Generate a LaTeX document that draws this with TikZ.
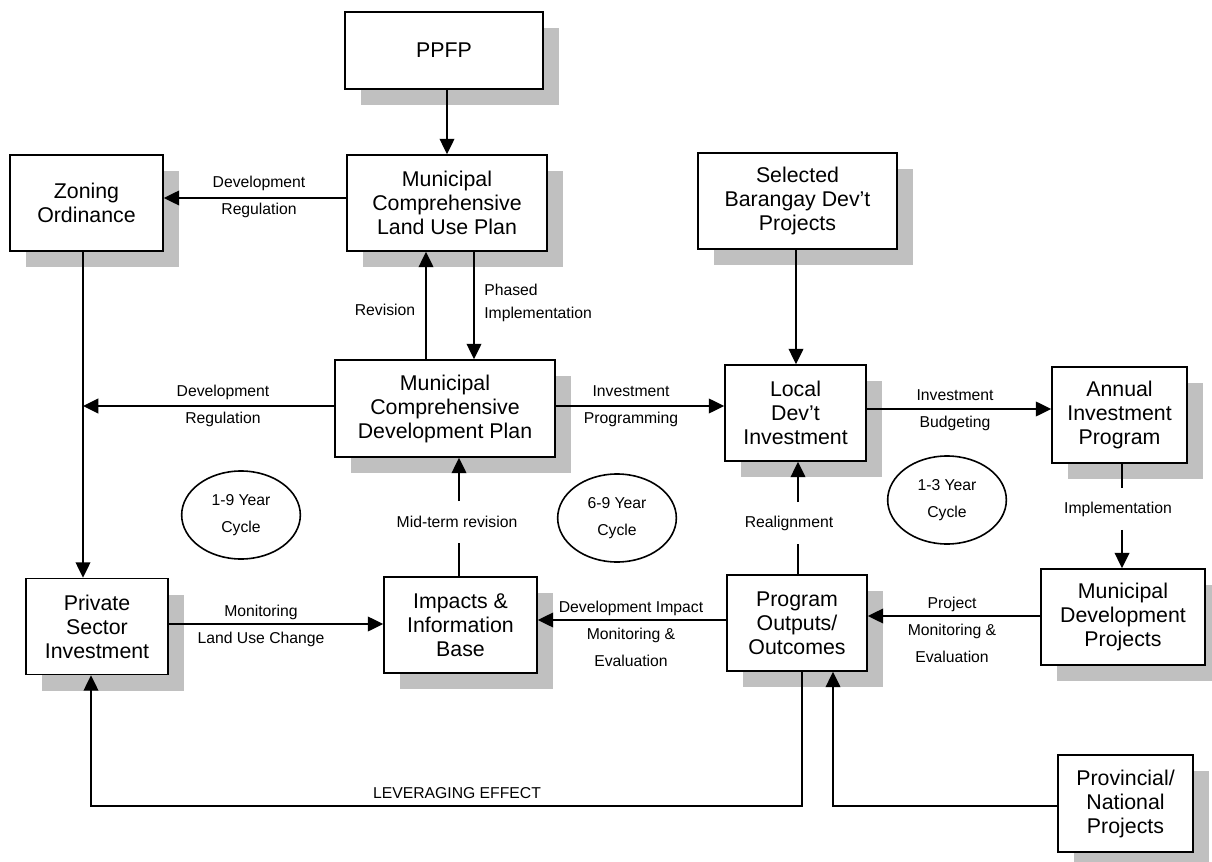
\documentclass[tikz,border=0pt]{standalone}
\usepackage{fontspec}
\setmainfont{Liberation Sans}
\usetikzlibrary{arrows.meta, shapes.geometric, shadows, positioning}
\definecolor{shadowgray}{RGB}{192,192,192}
\newcommand{\boxfont}{\fontsize{16}{18}\selectfont}
\newcommand{\lblfont}{\fontsize{11.8}{20.5}\selectfont}

\begin{document}
\begin{tikzpicture}[line cap=butt,line join=miter,>={Triangle[length=11.5pt,width=11pt]},x=0.75pt,y=-0.75pt]
  \tikzset{
  % boxes with a flat grey shadow
  blk/.style={draw, fill=white, line width=1.2pt, align=center, font=\boxfont, inner sep=2pt,
    drop shadow={shadow xshift=12pt, shadow yshift=-12pt, fill=shadowgray, opacity=1}},
  % labels along the connectors
  lbl/.style={font=\lblfont, align=center, inner sep=0pt},
  gaplbl/.style={lbl, minimum height=31pt},
  cyc/.style={draw, ellipse, line width=1.2pt, font=\lblfont, align=center, inner sep=0pt,
    minimum width=89pt, minimum height=66pt},
  arr/.style={->, line width=1.2pt},
}
\useasboundingbox (0,0) rectangle (1212,862);

\node[blk, minimum width=148.5pt, minimum height=57.75pt] (ppfp) at (444,50.5) {PPFP};
\node[blk, minimum width=150pt, minimum height=72pt] (mclup) at (447,203) {Municipal\\Comprehensive\\Land Use Plan};
\node[blk, minimum width=114.75pt, minimum height=72pt] (zoning) at (86.5,203) {Zoning\\Ordinance};
\node[blk, minimum width=149.25pt, minimum height=72pt] (selected) at (797.5,201) {Selected\\Barangay Dev’t\\Projects};
\node[blk, minimum width=165pt, minimum height=72.75pt] (mcdp) at (445,408.5) {Municipal\\Comprehensive\\Development Plan};
\node[blk, minimum width=105.75pt, minimum height=72pt] (local) at (795.5,413) {Local\\Dev’t\\Investment};
\node[blk, minimum width=101.25pt, minimum height=72pt] (annual) at (1119.5,415) {Annual\\Investment\\Program};
\node[blk, minimum width=106.5pt, minimum height=72pt] (private) at (97,626.5) {Private\\Sector\\Investment};
\node[blk, minimum width=114.75pt, minimum height=72pt] (impacts) at (460.5,625) {Impacts \&\\Information\\Base};
\node[blk, minimum width=105pt, minimum height=72pt] (program) at (797,623) {Program\\Outputs/\\Outcomes};
\node[blk, minimum width=123pt, minimum height=72pt] (mdp) at (1123,617) {Municipal\\Development\\Projects};
\node[blk, minimum width=101.25pt, minimum height=72.75pt] (prov) at (1125.5,803.5) {Provincial/\\National\\Projects};

% cycle ellipses
\node[cyc] (cyc19) at (241,515) {1-9 Year\\Cycle};
\node[cyc] (cyc69) at (617,518) {6-9 Year\\Cycle};
\node[cyc] (cyc13) at (947,500) {1-3 Year\\Cycle};

% labels
\node[lbl] (devreg1) at (259,197) {Development\\Regulation};
\node[lbl] (devreg2) at (223,406) {Development\\Regulation};
\node[lbl] (invprog) at (631,406) {Investment\\Programming};
\node[lbl] (invbud) at (955,410) {Investment\\Budgeting};
\node[lbl] (revis) at (385,310) {Revision};
\node[lbl, align=left, anchor=west, font=\fontsize{11.8}{17.5}\selectfont] (phased) at (484,303) {Phased\\Implementation};
\node[lbl] (projme) at (952,630) {Project\\Monitoring \&\\Evaluation};
\node[lbl] (devimp) at (631,634) {Development Impact\\Monitoring \&\\Evaluation};
\node[lbl] (monit) at (261,626) {Monitoring\\Land Use Change};
\node[lbl] (lev) at (457,793) {LEVERAGING EFFECT};
\node[gaplbl] (impl) at (1118,509) {Implementation};
\node[gaplbl] (realign) at (789,523) {Realignment};
\node[gaplbl] (midterm) at (457,522) {Mid-term revision};

\coordinate (zl) at (83,406);
\coordinate (levr) at (802,806);
\coordinate (levl) at (91,806);
\coordinate (provc) at (833,806);

\draw[arr] (ppfp.south -| mclup.north) -- (mclup.north);
\draw[arr] (mclup.west |- 0,198) -- (zoning.east |- 0,198);
\draw[arr] (zoning.south -| zl) -- (private.north -| zl);
\draw[arr] (mcdp.north -| 426,0) -- (mclup.south -| 426,0);
\draw[arr] (mclup.south -| 474,0) -- (mcdp.north -| 474,0);
\draw[arr] (mcdp.west |- zl) -- (zl);
\draw[arr] (mcdp.east |- zl) -- (local.west |- zl);
\draw[arr] (selected.south -| 796,0) -- (local.north -| 796,0);
\draw[arr] (local.east |- 0,409) -- (annual.west |- 0,409);
\draw[line width=1.2pt] (annual.south -| 1122,0) -- (impl.north -| 1122,0);
\draw[arr] (impl.south -| 1122,0) -- (mdp.north -| 1122,0);
\draw[arr] (mdp.west |- 0,616) -- (program.east |- 0,616);
\draw[line width=1.2pt] (program.north -| 798,0) -- (realign.south -| 798,0);
\draw[arr] (realign.north -| 798,0) -- (local.south -| 798,0);
\draw[arr] (program.west |- 0,620) -- (impacts.east |- 0,620);
\draw[line width=1.2pt] (impacts.north -| 459,0) -- (midterm.south -| 459,0);
\draw[arr] (midterm.north -| 459,0) -- (mcdp.south -| 459,0);
\draw[arr] (private.east |- 0,624) -- (impacts.west |- 0,624);
\draw[arr] (program.south -| levr) -- (levr) -- (levl) -- (private.south -| levl);
\draw[arr] (prov.west |- provc) -- (provc) -- (program.south -| provc);
\end{tikzpicture}
\end{document}
